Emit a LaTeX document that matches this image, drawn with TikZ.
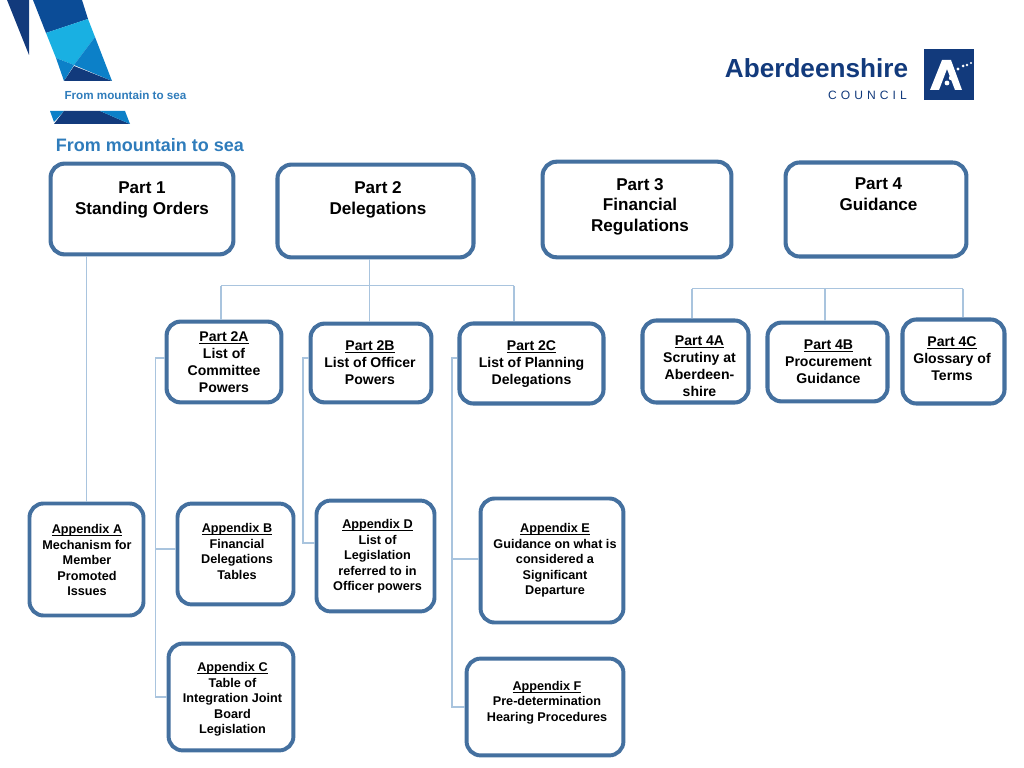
\documentclass[tikz,border=0pt]{standalone}
\usepackage{fontspec}
\setmainfont{Liberation Sans}
\definecolor{boxblue}{HTML}{44709F}
\definecolor{linkblue}{HTML}{A9C4DE}
\definecolor{navy}{HTML}{123A7C}
\definecolor{deepblue}{HTML}{0B4C97}
\definecolor{skyblue}{HTML}{19B0E2}
\definecolor{midblue}{HTML}{0C80C8}
\definecolor{seablue}{HTML}{2F7CBB}
% text of a box, moved by dx,dy pixels from the middle of the box
\newcommand{\boxtext}[3]{\raisebox{\dimexpr-#2\dimexpr0.711pt\relax-0.37em\relax}[0pt][0pt]{\makebox[0pt]{\hspace*{#1\dimexpr1.422pt\relax}\begin{tabular}{@{}c@{}}#3\end{tabular}}}}
\newcommand{\head}[1]{\underline{\raisebox{0pt}[\height][0pt]{#1}}}
\begin{document}
\begin{tikzpicture}[
        x=0.025cm,y=-0.025cm,
        box/.style={draw=boxblue,line width=2.9pt,rounded corners=10pt,fill=white,inner sep=0pt,text=black},
        partbox/.style={box,font=\bfseries\fontsize{12.15}{14.7}\selectfont},
        subbox/.style={box,font=\bfseries\fontsize{10}{12.1}\selectfont},
        appbox/.style={box,line width=2.8pt,font=\bfseries\fontsize{9}{11.1}\selectfont},
        link/.style={draw=linkblue,line width=0.85pt},
        ]
        \useasboundingbox (0,0) rectangle (1024,768);

        % logo top left
        \fill[navy] (7,0) -- (29,0) -- (29,55) -- cycle;
        \fill[deepblue] (33,0) -- (82,0) -- (88,19) -- (46,33) -- cycle;
        \fill[skyblue] (46,33) -- (88,19) -- (95,37) -- (74,65) -- (56,58) -- cycle;
        \fill[midblue] (95,37) -- (112,81) -- (74,65) -- cycle;
        \fill[midblue] (56,58) -- (74,65) -- (64,81) -- cycle;
        \fill[navy] (64,81) -- (74,66) -- (112,81) -- cycle;
        \fill[midblue] (50,111) -- (64,111) -- (54,122) -- cycle;
        \fill[navy] (64,111) -- (100,111) -- (130,124) -- (54,124) -- cycle;
        \fill[midblue] (100,111) -- (125,111) -- (130,124) -- cycle;
        \node[text=seablue,inner sep=0pt,font=\bfseries\fontsize{8.3}{10}\selectfont] (motto) at (125.5,95) {From mountain to sea};
        \node[text=seablue,inner sep=0pt,font=\bfseries\fontsize{12.8}{15}\selectfont] (title) at (150,145) {From mountain to sea};

        % logo top right
        \node[text=navy,inner sep=0pt,font=\bfseries\fontsize{18.6}{20}\selectfont] (council) at (816.5,68) {Aberdeenshire};
        \node[text=navy,inner sep=0pt,font=\fontsize{8.6}{10}\selectfont,anchor=east] (councilb) at (907,95) {C\,\,O\,\,U\,\,N\,\,C\,\,I\,\,L};
        \fill[navy] (924,49) rectangle (974,100);
        \fill[white] (930,90) -- (942,60) -- (951,60) -- (962,90) -- (955,90) -- (947,69) -- (939,90) -- cycle;
        \foreach \dotx/\doty/\dotr in {947/83/2.4,951/78/2.2,958/69/1.7,963/66/1.5,967/65/1.3,971/63/1.1}
          \fill[white] (\dotx,\doty) circle (\dotr);

        % top row
        \node[partbox,minimum width=4.57cm,minimum height=2.27cm] (part1) at (142,209) {\boxtext{0}{-11.5}{Part 1\\Standing Orders}};
        \node[partbox,minimum width=4.9cm,minimum height=2.32cm] (part2) at (375.5,211) {\boxtext{2.5}{-13.5}{Part 2\\Delegations}};
        \node[partbox,minimum width=4.72cm,minimum height=2.39cm] (part3) at (637,209.5) {\boxtext{3}{-5}{Part 3\\Financial\\Regulations}};
        \node[partbox,minimum width=4.52cm,minimum height=2.35cm] (part4) at (876,209.5) {\boxtext{2.5}{-15.5}{Part 4\\Guidance}};

        % second row
        \node[subbox,minimum width=2.87cm,minimum height=2.02cm] (part2a) at (224,362) {\boxtext{0}{0}{\head{Part 2A}\\List of\\Committee\\Powers}};
        \node[subbox,minimum width=3.02cm,minimum height=1.97cm] (part2b) at (371,363) {\boxtext{-1}{-1}{\head{Part 2B}\\List of Officer\\Powers}};
        \node[subbox,minimum width=3.6cm,minimum height=2cm] (part2c) at (531.5,363.5) {\boxtext{0}{-1.5}{\head{Part 2C}\\List of Planning\\Delegations}};
        \node[subbox,minimum width=2.65cm,minimum height=2.05cm] (part4a) at (695.5,361.5) {\boxtext{4}{4}{\head{Part 4A}\\Scrutiny at\\Aberdeen-\\shire}};
        \node[subbox,minimum width=3cm,minimum height=1.97cm] (part4b) at (827.5,362) {\boxtext{1}{-1}{\head{Part 4B}\\Procurement\\Guidance}};
        \node[subbox,minimum width=2.55cm,minimum height=2.1cm] (part4c) at (953.5,361.5) {\boxtext{-1.5}{-3.5}{\head{Part 4C}\\Glossary of\\Terms}};

        % appendix row
        \node[appbox,minimum width=2.85cm,minimum height=2.8cm] (appa) at (86.5,559.5) {\boxtext{0.5}{0.5}{\head{Appendix A}\\Mechanism for\\Member\\Promoted\\Issues}};
        \node[appbox,minimum width=2.9cm,minimum height=2.52cm] (appb) at (235.5,554) {\boxtext{1.5}{-2.5}{\head{Appendix B}\\Financial\\Delegations\\Tables}};
        \node[appbox,minimum width=3.12cm,minimum height=2.67cm] (appc) at (231,697) {\boxtext{1.5}{1}{\head{Appendix C}\\Table of\\Integration Joint\\Board\\Legislation}};
        \node[appbox,minimum width=2.95cm,minimum height=2.77cm] (appd) at (375.5,556) {\boxtext{2}{-1}{\head{Appendix D}\\List of\\Legislation\\referred to in\\Officer powers}};
        \node[appbox,minimum width=3.57cm,minimum height=3.1cm] (appe) at (552,560.5) {\boxtext{3}{-1.5}{\head{Appendix E}\\Guidance on what is\\considered a\\Significant\\Departure}};
        \node[appbox,minimum width=3.92cm,minimum height=2.42cm] (appf) at (545,707) {\boxtext{2}{-6}{\head{Appendix F}\\Pre-determination\\Hearing Procedures}};

        % links
        \coordinate (bus2l) at (221,285.5);
        \coordinate (bus2m) at (369.5,285.5);
        \coordinate (bus2r) at (514,285.5);
        \coordinate (bus4l) at (692,288.5);
        \coordinate (bus4m) at (825,288.5);
        \coordinate (bus4r) at (963,288.5);
        \coordinate (side2a) at (155.5,358);
        \coordinate (side2b) at (303,358);
        \coordinate (side2c) at (452,358);
        \coordinate (tapb) at (155.5,549);
        \coordinate (tapd) at (303,543);
        \coordinate (tape) at (452,559);
        \path[link] (part1.south -| appa.north) -- (appa.north)
        (part2.south -| bus2m) -- (bus2m |- part2b.north)
        (bus2l) -- (bus2r)
        (bus2l) -- (bus2l |- part2a.north)
        (bus2r) -- (bus2r |- part2c.north)
        (bus4l) -- (bus4r)
        (bus4l) -- (bus4l |- part4a.north)
        (bus4m) -- (bus4m |- part4b.north)
        (bus4r) -- (bus4r |- part4c.north)
        (part2a.west |- side2a) -- (side2a) |- (appc.west)
        (tapb) -- (tapb -| appb.west)
        (part2b.west |- side2b) -- (side2b) -- (tapd) -- (tapd -| appd.west)
        (part2c.west |- side2c) -- (side2c) |- (appf.west)
        (tape) -- (tape -| appe.west);
      \end{tikzpicture}
\end{document}
